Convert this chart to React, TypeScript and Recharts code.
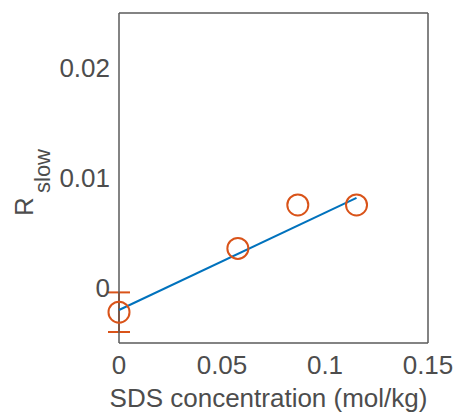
import { ComposedChart, ErrorBar, Label, Scatter, XAxis, YAxis } from "recharts";

// SDS concentration (mol/kg) and measured R_slow
const concentration = [0, 0.0577, 0.0868, 0.1153];
const rSlow = [-0.0022, 0.0036, 0.00755, 0.00755];
const rSlowErr = [0.0018];

// linear fit end points
const fitX = [0, 0.1153];
const fitY = [-0.002, 0.0082];

const xTicks = [0, 0.05, 0.1, 0.15];
const yTicks = [0, 0.01, 0.02];

const ORANGE = "#D95319";
const BLUE = "#0072BD";
const AXIS = "#5a5a5a";
const TEXT = "#4d4d4d";
const FONT = "'Liberation Sans', Arial, sans-serif";

const withErr = concentration
  .map((x, i) => ({ x, y: rSlow[i], err: rSlowErr[i] }))
  .filter((d) => d.err != null);
const noErr = concentration
  .map((x, i) => ({ x, y: rSlow[i], err: rSlowErr[i] }))
  .filter((d) => d.err == null);
const fitRows = fitX.map((x, i) => ({ x, y: fitY[i] }));

const Ring = (p: any) => (
  <circle cx={p.cx} cy={p.cy} r={10.5} fill="none" stroke={ORANGE} strokeWidth={2} />
);

const tickStyle = { fontSize: 26, fill: TEXT, fontFamily: FONT };
const inTick = { stroke: AXIS, strokeWidth: 1.5 };

export default function App() {
  return (
    <div style={{ position: "absolute", left: 0, top: 0, background: "#fff" }}>
      <ComposedChart
        width={457}
        height={417}
        margin={{ top: 13, right: 29, left: 0, bottom: 0 }}
      >
        <XAxis
          dataKey="x"
          type="number"
          domain={[0, 0.15]}
          ticks={xTicks}
          tickFormatter={(v: number) => String(v)}
          tick={tickStyle}
          tickLine={false}
          tickSize={6}
          tickMargin={7}
          height={74}
          axisLine={{ stroke: AXIS, strokeWidth: 1.5 }}
        >
          <Label
            content={(props: any) => {
              const vb = props.viewBox;
              return (
                <text
                  x={vb.x + vb.width / 2 - 5}
                  y={vb.y + 64}
                  textAnchor="middle"
                  fontSize={26}
                  fill={TEXT}
                  fontFamily={FONT}
                >
                  SDS concentration (mol/kg)
                </text>
              );
            }}
          />
        </XAxis>
        <XAxis
          xAxisId="bottomIn"
          type="number"
          domain={[0, 0.15]}
          ticks={xTicks}
          orientation="bottom"
          mirror
          height={1}
          tick={false}
          tickSize={4}
          tickLine={inTick}
          axisLine={false}
        />
        <XAxis
          xAxisId="top"
          type="number"
          domain={[0, 0.15]}
          ticks={xTicks}
          orientation="top"
          mirror
          height={1}
          tick={false}
          tickSize={4}
          tickLine={inTick}
          axisLine={{ stroke: AXIS, strokeWidth: 1.5 }}
        />
        <YAxis
          dataKey="y"
          type="number"
          domain={[-0.005, 0.025]}
          ticks={yTicks}
          tickFormatter={(v: number) => String(v)}
          tick={tickStyle}
          tickLine={false}
          tickSize={6}
          tickMargin={3}
          width={119}
          axisLine={{ stroke: AXIS, strokeWidth: 1.5 }}
        >
          <Label
            content={(props: any) => {
              const vb = props.viewBox;
              const cy = vb.y + vb.height / 2;
              const rx = vb.x + 33;
              const sx = vb.x + 50;
              return (
                <g fill={TEXT} fontFamily={FONT}>
                  <text x={rx} y={cy + 38} fontSize={26} transform={`rotate(-90 ${rx} ${cy + 38})`}>
                    R
                  </text>
                  <text x={sx} y={cy + 15} fontSize={22} transform={`rotate(-90 ${sx} ${cy + 15})`}>
                    slow
                  </text>
                </g>
              );
            }}
          />
        </YAxis>
        <YAxis
          yAxisId="leftIn"
          type="number"
          domain={[-0.005, 0.025]}
          ticks={yTicks}
          orientation="left"
          mirror
          width={1}
          tick={false}
          tickSize={4}
          tickLine={inTick}
          axisLine={false}
        />
        <YAxis
          yAxisId="right"
          type="number"
          domain={[-0.005, 0.025]}
          ticks={yTicks}
          orientation="right"
          mirror
          width={1}
          tick={false}
          tickSize={4}
          tickLine={inTick}
          axisLine={{ stroke: AXIS, strokeWidth: 1.5 }}
        />
        <Scatter
          data={fitRows}
          line={{ stroke: BLUE, strokeWidth: 2 }}
          shape={() => <g />}
          isAnimationActive={false}
        />
        <Scatter data={noErr} shape={Ring} isAnimationActive={false} />
        <Scatter data={withErr} shape={Ring} isAnimationActive={false}>
          <ErrorBar
            dataKey="err"
            direction="y"
            width={11}
            stroke={ORANGE}
            strokeWidth={2}
            isAnimationActive={false}
          />
        </Scatter>
      </ComposedChart>
    </div>
  );
}
